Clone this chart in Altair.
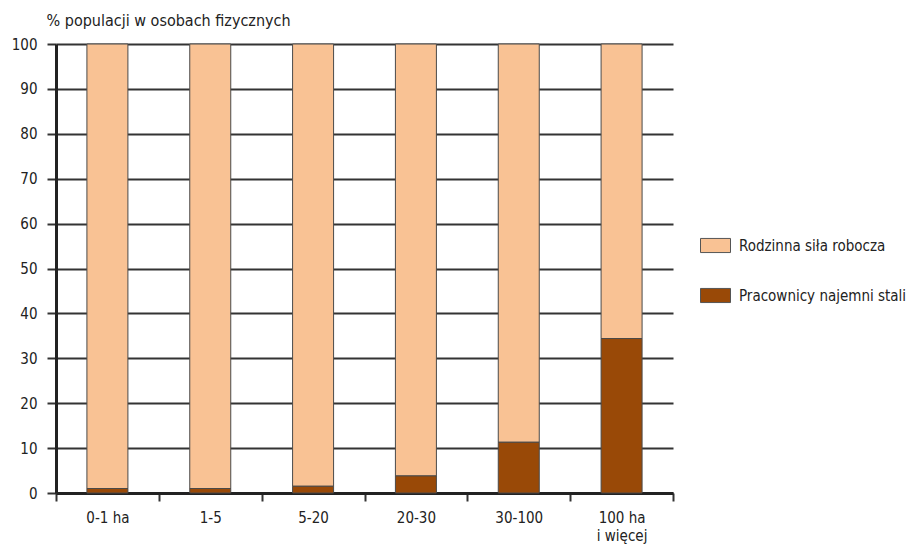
import altair as alt
import pandas as pd

categories = ["0-1 ha", "1-5", "5-20", "20-30", "30-100", "100 ha|i więcej"]
series_names = ["Rodzinna siła robocza", "Pracownicy najemni stali"]
rodzinna = [99.0, 99.0, 98.5, 96.2, 88.7, 65.6]
najemni = [1.0, 1.0, 1.5, 3.8, 11.3, 34.4]
colors = ["#F9C294", "#994907"]
y_title = "% populacji w osobach fizycznych"

rows = []
for c, r, n in zip(categories, rodzinna, najemni):
    rows.append({"kat": c, "seria": series_names[0], "val": r, "ord": 1})
    rows.append({"kat": c, "seria": series_names[1], "val": n, "ord": 0})
df = pd.DataFrame(rows)

FONT = "DejaVu Sans Condensed, Liberation Sans, sans-serif"
FS = 15

chart = alt.Chart(df).mark_bar(size=41, stroke="#4a4a4a", strokeWidth=1).encode(
    x=alt.X("kat:N", sort=categories,
            scale=alt.Scale(paddingInner=0, paddingOuter=0),
            axis=alt.Axis(title=None, labelAngle=0, tickBand="extent", grid=False,
                          labelExpr="split(datum.label, '|')",
                          domain=True, domainWidth=3, domainColor="#222",
                          ticks=True, tickSize=8, tickWidth=2, tickColor="#333",
                          labelPadding=9, labelFontSize=FS,
                          labelFont=FONT, labelColor="#222", labelLineHeight=18)),
    y=alt.Y("val:Q", stack="zero",
            scale=alt.Scale(domain=[0, 100], nice=False),
            axis=alt.Axis(values=list(range(0, 101, 10)), title=y_title,
                          titleAngle=0, titleAlign="left", titleBaseline="alphabetic",
                          titleX=-10, titleY=-19, titleFont=FONT, titleFontSize=16,
                          titleFontWeight="normal", titleColor="#222",
                          grid=True, gridColor="#333", gridWidth=2,
                          domain=True, domainWidth=3, domainColor="#222",
                          tickSize=9, tickWidth=2, tickColor="#333",
                          labelPadding=10, labelFont=FONT, labelFontSize=FS,
                          labelColor="#222")),
    color=alt.Color("seria:N", sort=series_names,
                    scale=alt.Scale(domain=series_names, range=colors),
                    legend=alt.Legend(title=None, orient="none", legendX=644, legendY=186,
                                      symbolType="M-1,-0.47H1V0.47H-1Z", symbolSize=900,
                                      symbolStrokeColor="#555", symbolStrokeWidth=1,
                                      labelFont=FONT, labelFontSize=FS, labelColor="#222",
                                      labelLimit=300,
                                      labelOffset=8, rowPadding=25)),
    order=alt.Order("ord:Q"),
).properties(
    width=617, height=449,
    autosize=alt.AutoSizeParams(type="none"),
    padding={"left": 48, "top": 36, "right": 233, "bottom": 52},
).configure_view(stroke=None)

chart.save("out.html", embed_options={"renderer": "svg", "actions": False})
